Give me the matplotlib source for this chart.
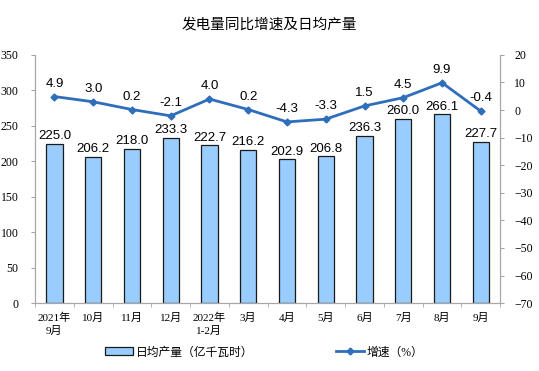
import matplotlib.pyplot as plt
import numpy as np

# monthly data
months = ["2021年\n9月", "10月", "11月", "12月", "2022年\n1-2月", "3月",
          "4月", "5月", "6月", "7月", "8月", "9月"]
daily_output = [225.0, 206.2, 218.0, 233.3, 222.7, 216.2,
                202.9, 206.8, 236.3, 260.0, 266.1, 227.7]
growth = [4.9, 3.0, 0.2, -2.1, 4.0, 0.2, -4.3, -3.3, 1.5, 4.5, 9.9, -0.4]

cjk = ['Liberation Serif', 'Noto Sans CJK SC']
plt.rcParams['font.family'] = ['Noto Sans CJK SC', 'DejaVu Sans']

fig = plt.figure(figsize=(5.39, 3.71), dpi=100)
ax = fig.add_axes([0.065, 0.183, 0.863, 0.669])
ax2 = ax.twinx()

x = np.arange(len(months))
bar_col = '#99CCFF'
line_col = '#2F6EBA'
spine_col = '#A6A6A6'

bars = ax.bar(x, daily_output, width=0.42, color=bar_col, edgecolor='#1A1A1A',
              linewidth=0.9, label='日均产量（亿千瓦时）', zorder=2)
line, = ax2.plot(x, growth, color=line_col, lw=2, marker='D', ms=3.5,
                 label='增速（%）', zorder=3)

for xi, v in zip(x, daily_output):
    ax.text(xi, v + 2, f"{v:.1f}", ha='center', va='bottom', fontsize=9.5,
            family='Liberation Sans', zorder=4)
for xi, v in zip(x, growth):
    ax2.text(xi, v + 2.5, f"{v:.1f}", ha='center', va='bottom', fontsize=9.5,
             family='Liberation Sans', zorder=4)

ax.set_xlim(-0.5, len(months) - 0.5)
ax.set_ylim(0, 350)
ax.set_yticks(range(0, 351, 50))
ax2.set_ylim(-70, 20)
ax2.set_yticks(range(-70, 21, 10))

ax.set_xticks(x)
ax.set_xticklabels(months, family=cjk, fontsize=8, linespacing=1.35)
ax.set_xticks(np.arange(-0.5, len(months), 1), minor=True)
ax.tick_params(axis='x', which='major', length=0, pad=7)
ax.tick_params(axis='x', which='minor', length=3, color=spine_col, direction='out')

for a in (ax, ax2):
    for s in a.spines.values():
        s.set_color(spine_col)
    a.spines['top'].set_visible(False)

ax.tick_params(axis='y', length=3, color=spine_col, pad=9,
               labelsize=8.5, labelfontfamily='Liberation Serif')
ax2.tick_params(axis='y', length=3, color=spine_col, pad=7,
                labelsize=8.5, labelfontfamily='Liberation Serif')

fig.text(0.5, 0.935, "发电量同比增速及日均产量", ha='center', va='center', fontsize=10.5)

fig.legend(handles=[bars, line], loc='center', bbox_to_anchor=(0.49, 0.05),
           ncol=2, frameon=False, columnspacing=7,
           handlelength=2.4, handletextpad=0.2, prop={'family': cjk, 'size': 8.5})

fig.savefig("out.png", dpi=100)
